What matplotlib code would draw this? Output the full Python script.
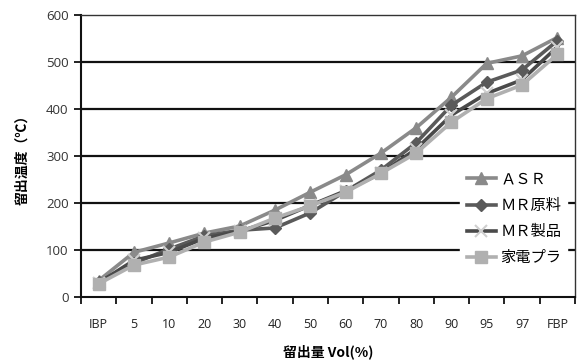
import matplotlib
matplotlib.use("Agg")
import matplotlib.pyplot as plt
from matplotlib.ticker import FixedLocator, MultipleLocator

plt.rcParams['font.family'] = ['Noto Sans CJK JP', 'DejaVu Sans']

categories = ["IBP", "5", "10", "20", "30", "40", "50", "60", "70", "80", "90", "95", "97", "FBP"]

asr = [35, 95, 115, 136, 151, 185, 223, 260, 306, 360, 425, 497, 513, 552]
mr_raw = [32, 72, 102, 130, 142, 147, 179, 225, 270, 328, 408, 457, 483, 545]
mr_product = [30, 78, 95, 125, 140, 163, 195, 226, 263, 315, 387, 433, 462, 532]
home_plastic = [28, 68, 85, 117, 138, 168, 194, 223, 263, 306, 372, 422, 451, 516]

series_names = ["ＡＳＲ", "ＭＲ原料", "ＭＲ製品", "家電プラ"]

fig = plt.figure(figsize=(5.77, 3.63), dpi=100)
ax = fig.add_axes([0.1404, 0.1818, 0.856, 0.777])

x = list(range(len(categories)))

ax.plot(x, asr, color="#8a8a8a", lw=2.6, marker="^", ms=8, mec="#8a8a8a", label=series_names[0], zorder=4)
ax.plot(x, mr_raw, color="#5a5a5a", lw=2.6, marker="D", ms=6, mec="#5a5a5a", label=series_names[1], zorder=4)
ax.plot(x, mr_product, color="#4a4a4a", lw=2.6, marker="x", ms=8, mew=1.5, mec="#cfcfcf", label=series_names[2], zorder=4)
ax.plot(x, home_plastic, color="#b0b0b0", lw=2.6, marker="s", ms=8, mec="#b0b0b0", label=series_names[3], zorder=5)

ax.set_xlim(-0.5, len(categories) - 0.5)
ax.set_ylim(0, 600)
ax.yaxis.set_major_locator(MultipleLocator(100))
for v in range(100, 600, 100):
    ax.axhline(v, color="#111111", lw=1.6, zorder=1)

ax.xaxis.set_major_locator(FixedLocator([i - 0.5 for i in range(len(categories) + 1)]))
ax.xaxis.set_minor_locator(FixedLocator(x))
ax.set_xticklabels([])
ax.set_xticklabels(categories, minor=True)
ax.tick_params(axis="x", which="major", direction="out", length=5, width=1.3, color="#111111")
ax.tick_params(axis="x", which="minor", length=0, pad=15, labelsize=9, labelcolor="#222222")
ax.tick_params(axis="y", direction="out", length=5, width=1.3, color="#111111", labelsize=9.5, labelcolor="#333333", pad=4)
for lab in ax.get_xticklabels(minor=True):
    lab.set_family(["Open Sans", "DejaVu Sans"])
for lab in ax.get_yticklabels():
    lab.set_family(["Open Sans", "DejaVu Sans"])

for side in ["left", "bottom"]:
    ax.spines[side].set_linewidth(1.5)
    ax.spines[side].set_color("#111111")
for side in ["top", "right"]:
    ax.spines[side].set_linewidth(1.0)
    ax.spines[side].set_color("#333333")

ax.set_xlabel("留出量 Vol(%)", fontsize=10, fontweight="bold", labelpad=10)
ax.set_ylabel("留出温度（℃）", fontsize=10, fontweight="bold", labelpad=12)

leg = ax.legend(loc="lower right", bbox_to_anchor=(1.0, 0.06), frameon=True, fontsize=11,
                handlelength=1.9, labelspacing=0.6, borderpad=0.4, handletextpad=0.3)
leg.get_frame().set_facecolor("white")
leg.get_frame().set_edgecolor("white")
leg.get_frame().set_alpha(1.0)
leg.set_zorder(6)

fig.savefig("out.png", dpi=100)
